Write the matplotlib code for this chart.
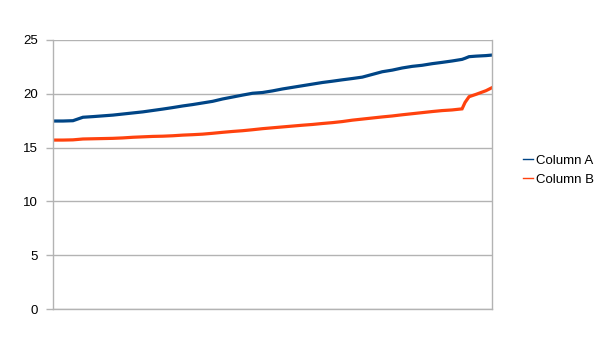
import matplotlib
matplotlib.use("Agg")
import matplotlib.pyplot as plt
from matplotlib.lines import Line2D

plt.rcParams['font.family'] = ['Liberation Sans', 'DejaVu Sans']

rows = [0, 10, 20, 30, 40, 50, 60, 70, 80, 90, 100, 110, 120, 130, 140, 150,
        160, 170, 180, 190, 200, 210, 220, 230, 240, 250, 260, 270, 280, 290,
        300, 310, 320, 330, 340, 350, 360, 370, 380, 390, 400, 410, 413, 417,
        424, 434, 440]

column_a = [17.47, 17.47, 17.5, 17.82, 17.88, 17.95, 18.02, 18.12, 18.22, 18.32,
            18.45, 18.58, 18.72, 18.87, 19.0, 19.15, 19.3, 19.52, 19.7, 19.88,
            20.05, 20.12, 20.27, 20.45, 20.6, 20.75, 20.9, 21.05, 21.17, 21.3,
            21.42, 21.55, 21.8, 22.05, 22.2, 22.4, 22.55, 22.65, 22.8, 22.92,
            23.05, 23.2, 23.3, 23.45, 23.5, 23.55, 23.6]

column_b = [15.7, 15.7, 15.72, 15.8, 15.82, 15.84, 15.86, 15.9, 15.96, 16.0,
            16.04, 16.06, 16.1, 16.16, 16.2, 16.25, 16.33, 16.42, 16.5, 16.57,
            16.66, 16.76, 16.84, 16.92, 17.0, 17.08, 17.15, 17.24, 17.32, 17.42,
            17.55, 17.65, 17.75, 17.85, 17.94, 18.05, 18.15, 18.25, 18.35, 18.44,
            18.5, 18.6, 19.2, 19.73, 19.95, 20.29, 20.57]

series_names = ["Column A", "Column B"]
colors = ["#004586", "#ff420e"]
y_ticks = [0, 5, 10, 15, 20, 25]

fig = plt.figure(figsize=(6.06, 3.41), dpi=100)
ax = fig.add_axes([53/606, (341-309)/341, 439/606, 269/341])

ax.plot(rows, column_a, color=colors[0], lw=2.3, solid_joinstyle='miter')
ax.plot(rows, column_b, color=colors[1], lw=2.3, solid_joinstyle='miter')

ax.set_xlim(rows[0], rows[-1])
ax.set_ylim(0, 25)
ax.set_yticks(y_ticks)
ax.set_xticks([])
ax.yaxis.grid(True, color="#b3b3b3", lw=1)
ax.set_axisbelow(True)
for s in ax.spines.values():
    s.set_color("#b3b3b3")
    s.set_linewidth(1)
ax.spines['top'].set_visible(False)
ax.tick_params(axis='y', length=5, width=1, color="#b3b3b3", labelsize=9.5, pad=6)

handles = [Line2D([0], [0], color=c, lw=1) for c in colors]
fig.legend(handles, series_names, loc="center left", bbox_to_anchor=(523/606, 1 - 170/341),
           frameon=False, fontsize=9.5, handlelength=0.75, handletextpad=0.2,
           labelspacing=0.5, borderaxespad=0, borderpad=0)

fig.savefig("out.png", dpi=100)
